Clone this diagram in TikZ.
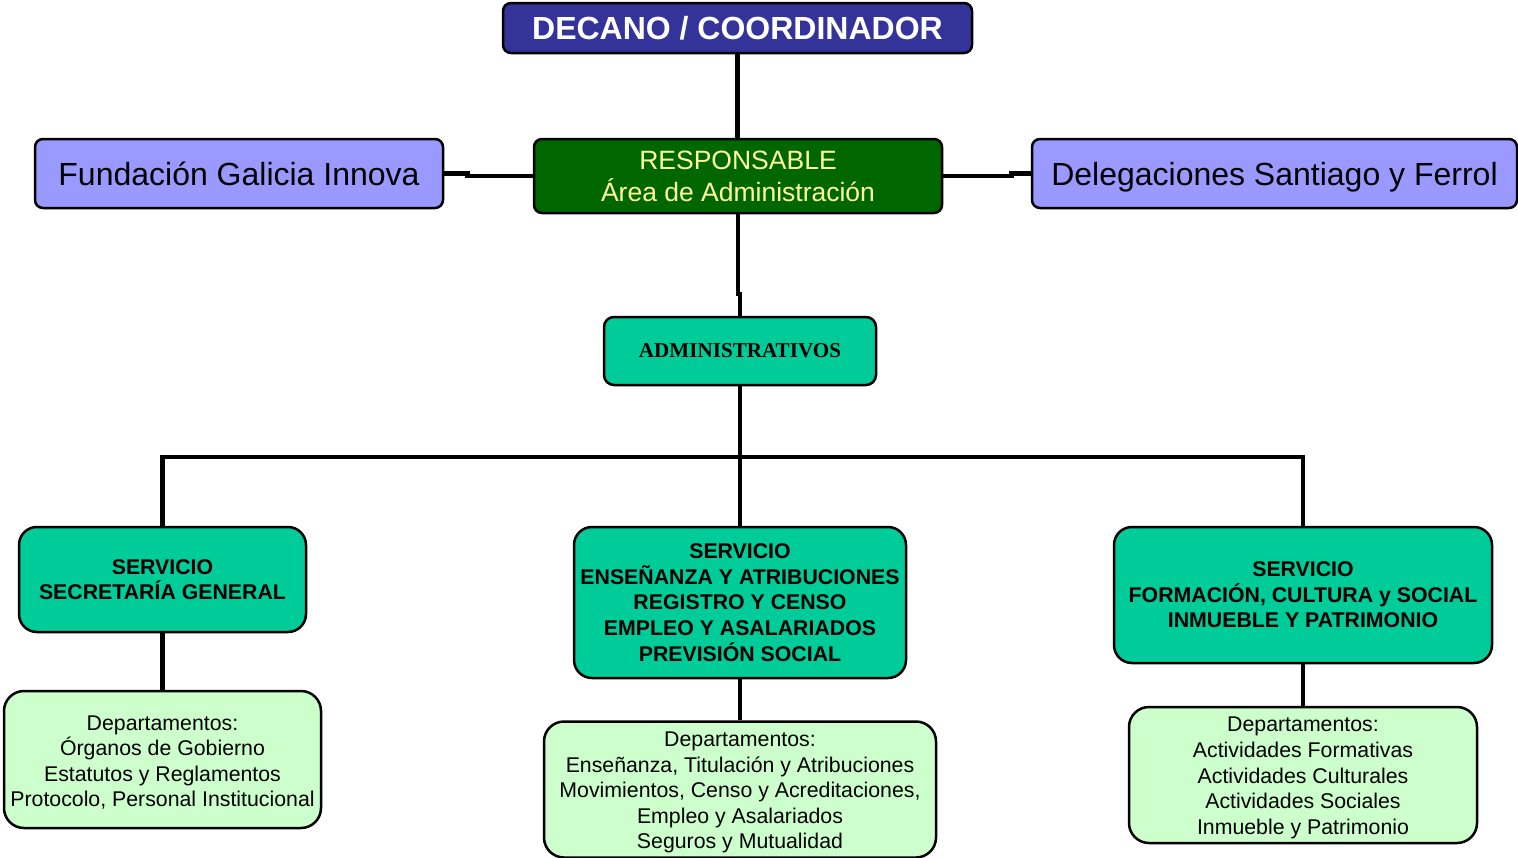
\documentclass[tikz,border=0pt]{standalone}
\usepackage{fontspec}
\setmainfont{Liberation Sans}
\newfontfamily\serifbold{Liberation Serif}
\usetikzlibrary{calc}
\definecolor{decfill}{HTML}{333399}
\definecolor{sidefill}{HTML}{9999FF}
\definecolor{respfill}{HTML}{006600}
\definecolor{resptext}{HTML}{FFFF99}
\definecolor{servfill}{HTML}{00CC99}
\definecolor{deptfill}{HTML}{CCFFCC}
\begin{document}
\begin{tikzpicture}[x=1pt,y=-1pt,
  box/.style={draw=black,line width=2.5pt,inner sep=0pt,align=center},
  topbox/.style={box,rounded corners=8pt},
  servbox/.style={box,fill=servfill,rounded corners=18pt,font=\fontsize{21.3}{25.6}\selectfont\bfseries},
  deptbox/.style={box,fill=deptfill,rounded corners=20pt},
  depttext/.style={align=center,inner sep=0pt,yshift=-3pt,font=\fontsize{21.3}{25.6}\selectfont},
  conn/.style={draw=black,line width=4.5pt}]
\useasboundingbox (0,0) rectangle (1518,857);
% top row
\node[topbox,fill=decfill,text=white,minimum width=469pt,minimum height=50pt,
  font=\fontsize{32}{38}\selectfont\bfseries] (dec) at (737.5,28) {DECANO / COORDINADOR};
\node[topbox,fill=sidefill,minimum width=408pt,minimum height=69pt,
  font=\fontsize{32}{38}\selectfont] (fund) at (239,173.5) {Fundación Galicia Innova};
\node[topbox,fill=respfill,text=resptext,minimum width=408pt,minimum height=74pt,
  font=\fontsize{26.5}{32}\selectfont] (resp) at (738,176) {RESPONSABLE\\Área de Administración};
\node[topbox,fill=sidefill,minimum width=485pt,minimum height=69pt,text depth=0pt,
  font=\fontsize{32}{38}\selectfont] (deleg) at (1274.5,173.5) {Delegaciones Santiago y Ferrol};
% middle
\node[box,fill=servfill,rounded corners=10pt,minimum width=272pt,minimum height=68pt,
  font=\fontsize{21.1}{25}\selectfont\serifbold\bfseries] (admin) at (740,351) {ADMINISTRATIVOS};
% services
\node[servbox,minimum width=287pt,minimum height=105pt] (s1) at (162.5,579.5)
  {SERVICIO\\SECRETARÍA GENERAL};
\node[servbox,minimum width=332pt,minimum height=151pt] (s2) at (740,602.5)
  {SERVICIO\\ENSEÑANZA Y ATRIBUCIONES\\REGISTRO Y CENSO\\EMPLEO Y ASALARIADOS\\PREVISIÓN SOCIAL};
\node[servbox,minimum width=378pt,minimum height=136pt] (s3) at (1303,595)
  {SERVICIO\\FORMACIÓN, CULTURA y SOCIAL\\INMUEBLE Y PATRIMONIO};
% departments
\node[deptbox,minimum width=317pt,minimum height=137pt,
  label={[depttext]center:{Departamentos:\\Órganos de Gobierno\\Estatutos y Reglamentos\\Protocolo, Personal Institucional}}]
  (d1) at (162.5,759.5) {};
\node[deptbox,minimum width=392pt,minimum height=136pt,
  label={[depttext]center:{Departamentos:\\Enseñanza, Titulación y Atribuciones\\Movimientos, Censo y Acreditaciones,\\Empleo y Asalariados\\Seguros y Mutualidad}}]
  (d2) at (740,789.5) {};
\node[deptbox,minimum width=348pt,minimum height=136pt,
  label={[depttext]center:{Departamentos:\\Actividades Formativas\\Actividades Culturales\\Actividades Sociales\\Inmueble y Patrimonio}}]
  (d3) at (1303,775) {};
% connectors
\coordinate (j1) at (738,294);
\coordinate (bus) at (740,457);
\draw[conn] (dec.south) -- (dec.south |- resp.north);
\draw[conn] (fund.east) -- ++(23,0) |- (resp.west);
\draw[conn] (resp.east) -- ++(68,0) |- (deleg.west);
\draw[conn] (resp.south) -- (j1) -| (admin.north);
\draw[conn] (admin.south) -- (s2.north);
\draw[conn] (s1.north) -- (s1.north |- bus) -- (s3.north |- bus) -- (s3.north);
\draw[conn] (s1.south) -- (d1.north);
\draw[conn] (s2.south) -- (d2.north);
\draw[conn] (s3.south) -- (d3.north);
\end{tikzpicture}
\end{document}
